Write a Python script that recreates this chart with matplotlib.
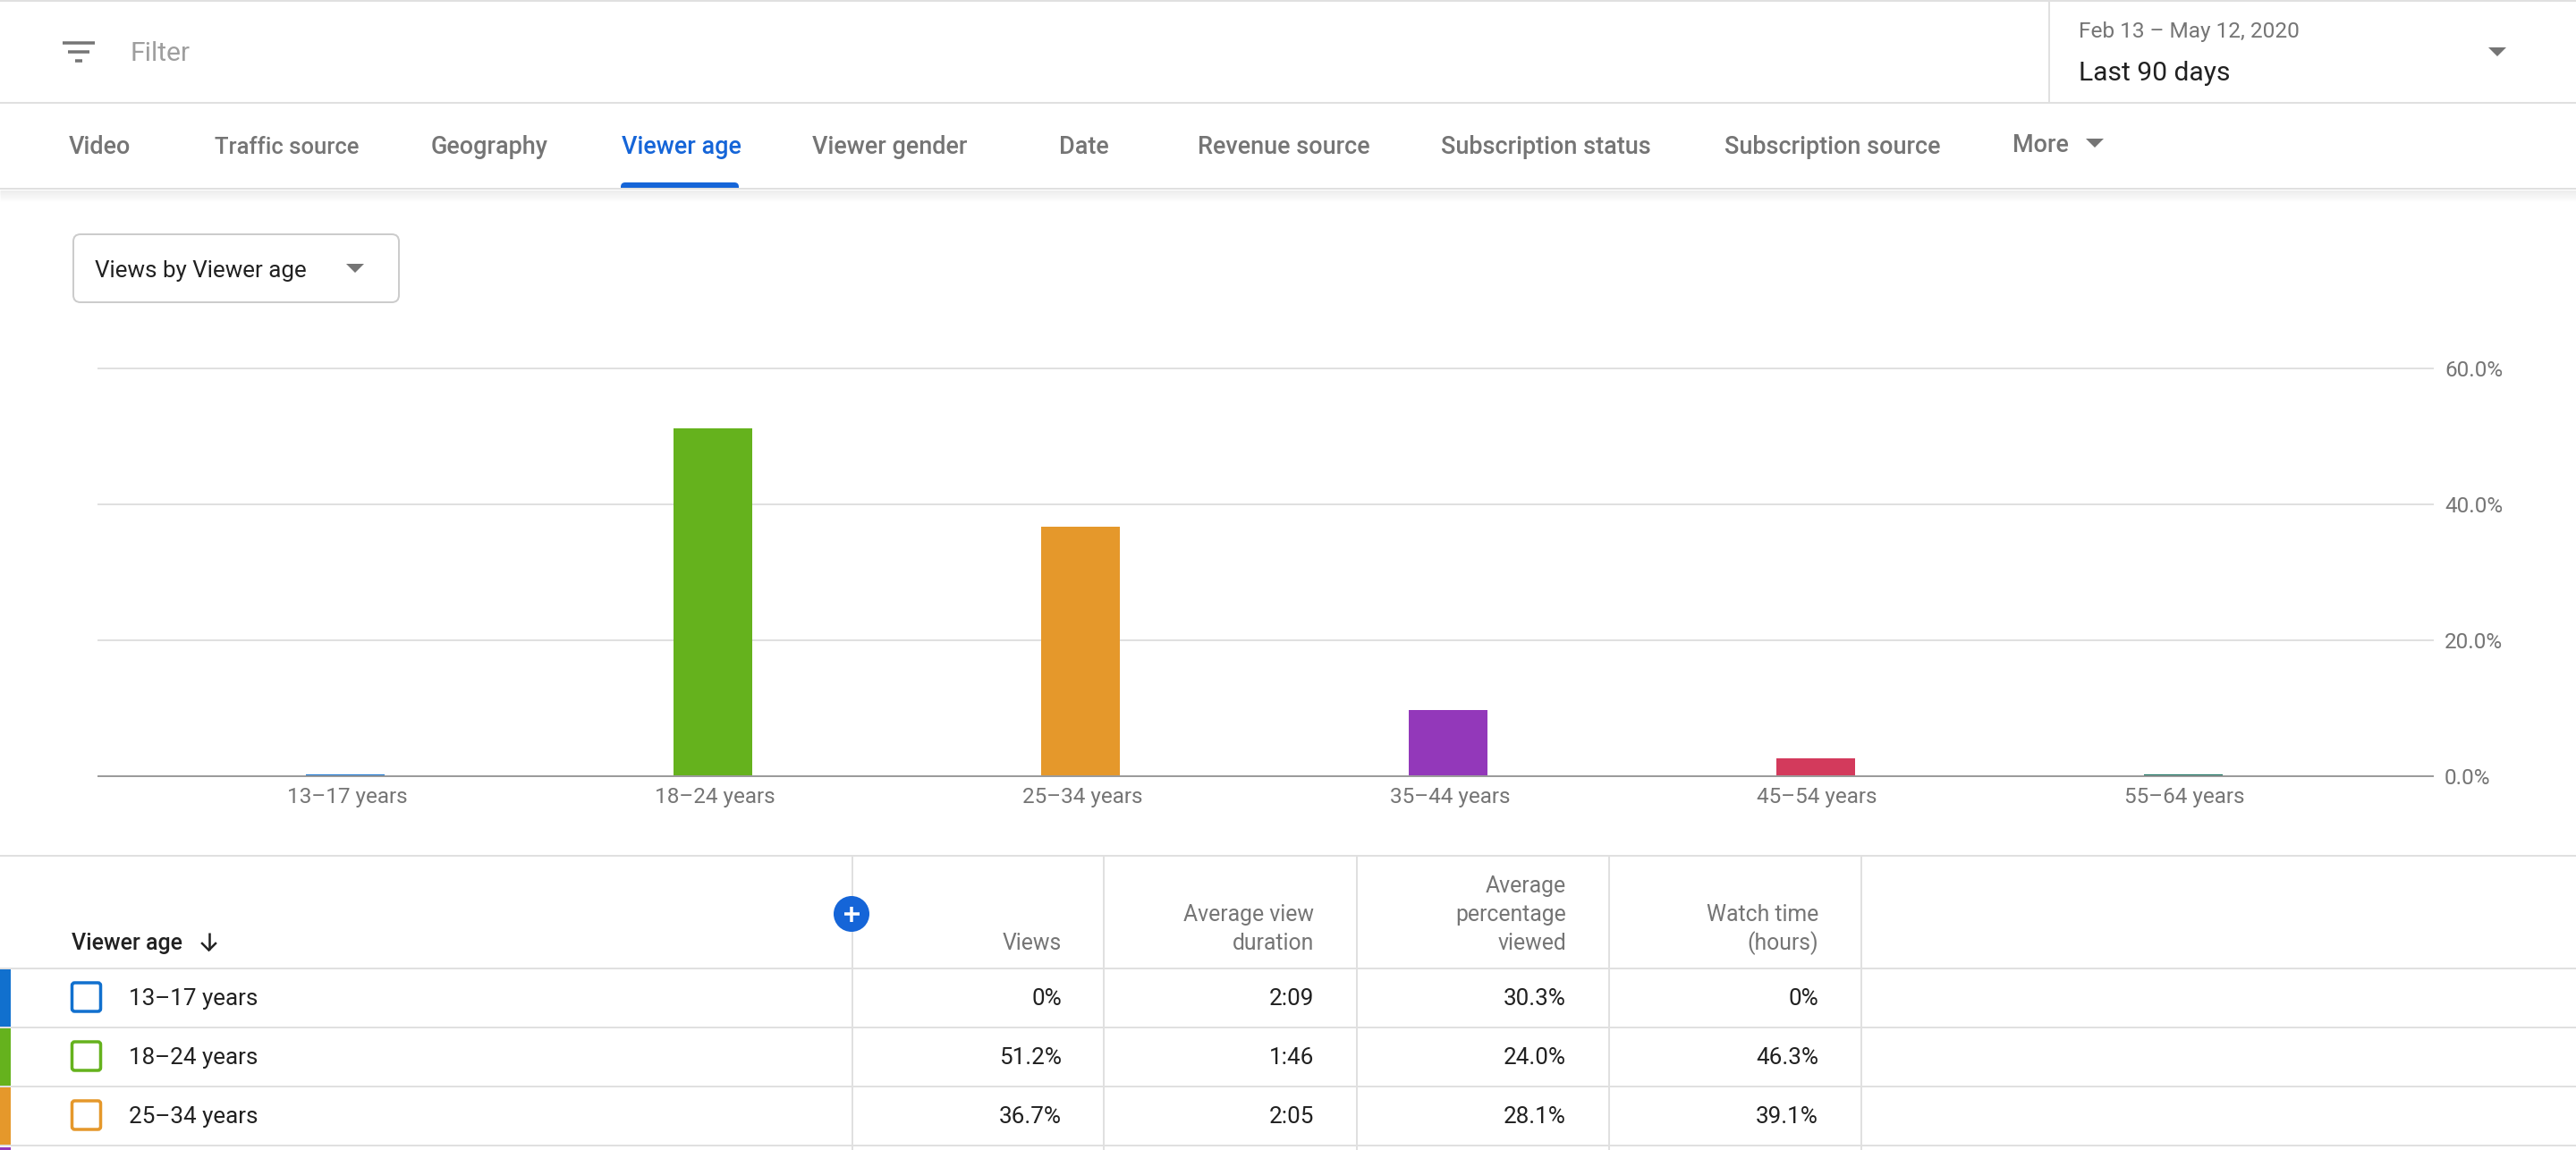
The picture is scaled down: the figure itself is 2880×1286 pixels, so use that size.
import matplotlib
matplotlib.use('Agg')
import matplotlib.pyplot as plt
from matplotlib.patches import Polygon, FancyBboxPatch, Circle, Rectangle
from matplotlib.transforms import Affine2D

plt.rcParams['font.family'] = ['Roboto', 'DejaVu Sans']

# chart data
age_groups = ['13–17 years', '18–24 years', '25–34 years', '35–44 years', '45–54 years', '55–64 years']
views_pct = [0.25, 51.2, 36.7, 9.7, 2.6, 0.25]
bar_colors = ['#1170CE', '#65B21D', '#E5982B', '#9338BA', '#D33A5C', '#0B6B57']
y_ticks = [0, 20, 40, 60]
y_tick_labels = ['0.0%', '20.0%', '40.0%', '60.0%']

# the table under the chart
table_rows = ['13–17 years', '18–24 years', '25–34 years']
table_views = ['0%', '51.2%', '36.7%']
table_duration = ['2:09', '1:46', '2:05']
table_percentage = ['30.3%', '24.0%', '28.1%']
table_watch = ['0%', '46.3%', '39.1%']

# nav tabs: label, left edge in pixels
tabs = ['Video', 'Traffic source', 'Geography', 'Viewer age', 'Viewer gender', 'Date',
        'Revenue source', 'Subscription status', 'Subscription source', 'More']
tab_x = [77, 240, 482, 695, 908, 1184, 1339, 1611, 1928, 2250]

W, H = 2880, 1286
GREY = '#757575'
DARK = '#212121'
LINE = '#E0E0E0'
BLUE = '#1565D8'


def pt(px):
    # everything was measured in image pixels, fonts and lines want points
    return px * 72 / 100


fig = plt.figure(figsize=(28.8, 12.86), dpi=100, facecolor='white')

# one axes in pixel coordinates for the page around the chart
ui = fig.add_axes([0, 0, 1, 1])
ui.set_xlim(0, W)
ui.set_ylim(H, 0)
ui.axis('off')


def label(x, y, s, size=26, color=DARK, ha='left', weight='normal'):
    ui.text(x, y, s, fontsize=pt(size), color=color, ha=ha, va='baseline', fontweight=weight)


def hline(y, x0=0, x1=W, lw=2, color=LINE, alpha=None):
    ui.plot([x0, x1], [y, y], color=color, lw=pt(lw), solid_capstyle='butt', alpha=alpha)


def vline(x, y0, y1, lw=2, color=LINE):
    ui.plot([x, x], [y0, y1], color=color, lw=pt(lw), solid_capstyle='butt')


def triangle(x, y, w=20, h=10):
    ui.add_patch(Polygon([(x - w / 2, y - h / 2), (x + w / 2, y - h / 2), (x, y + h / 2)],
                         closed=True, fc=GREY, ec='none'))


# top bar
hline(1)
hline(115)
vline(2291, 2, 115)
for y, x0, x1 in [(48, 70, 106), (58, 76, 100), (68, 84, 92)]:
    hline(y, x0, x1, lw=3.5, color=GREY)
label(145, 68, 'Filter', size=30, color='#9E9E9E')
label(2324, 42, 'Feb 13 – May 12, 2020', size=24.4, color=GREY)
label(2324, 90, 'Last 90 days', size=30)
triangle(2792, 58)

# nav tabs, with a soft shadow below
for i in range(13):
    hline(212.5 + i, lw=1.2, color='#000000', alpha=0.06 * (1 - i / 13))
hline(211, color=LINE, lw=2)
for name, x in zip(tabs, tab_x):
    active = name == 'Viewer age'
    y = 170 if name == 'More' else 172
    # the reference sets "ffi" tighter than Roboto does here
    size = 25.6 if name == 'Traffic source' else 27
    label(x, y, name, size=size, color=BLUE if active else GREY, weight='medium')
triangle(2342, 160)
underline = FancyBboxPatch((694, 204), 132, 14, boxstyle='round,pad=0,rounding_size=5', fc=BLUE, ec='none')
ui.add_patch(underline)
underline.set_clip_path(Rectangle((690, 200), 140, 10, transform=ui.transData))

# dropdown above the chart
ui.add_patch(FancyBboxPatch((82, 262), 364, 76, boxstyle='round,pad=0,rounding_size=8',
                            fc='white', ec='#CCCCCC', lw=pt(2)))
label(106, 310, 'Views by Viewer age', size=26)
triangle(397, 300)

# the bar chart itself
ax = fig.add_axes([110 / W, 1 - 868 / H, (2720 - 110) / W, (868 - 412) / H])
ax.set_xlim(-0.672, 5.68)
ax.set_ylim(0, 60)
ax.patch.set_alpha(0)
positions = list(range(len(age_groups)))
ax.bar(positions, views_pct, width=0.214, color=bar_colors, zorder=3)
ax.set_xticks(positions)
ax.set_xticklabels(age_groups)
ax.set_yticks(y_ticks)
ax.set_yticklabels(y_tick_labels)
ax.yaxis.tick_right()
ax.tick_params(axis='both', length=0, labelsize=pt(24.3), labelcolor=GREY)
ax.tick_params(axis='x', pad=pt(12))
ax.tick_params(axis='y', pad=pt(13))
ax.grid(axis='y', color=LINE, lw=pt(2), zorder=0)
for gridline in ax.get_ygridlines():
    gridline.set_clip_on(False)
ax.get_ygridlines()[0].set_visible(False)
# x labels sit 2 px right of the bar centres in the reference
for tick_text in ax.get_xticklabels():
    tick_text.set_transform(tick_text.get_transform() + Affine2D().translate(2, 0))
for side in ['top', 'left', 'right']:
    ax.spines[side].set_visible(False)
ax.spines['bottom'].set_color('#9B9B9B')
ax.spines['bottom'].set_linewidth(pt(2))
ax.spines['bottom'].set_zorder(4)

# table grid
hline(957)
for y in [1083, 1149, 1215, 1281]:
    hline(y)
for x in [953, 1234, 1517, 1799, 2081]:
    vline(x, 957, H)

# table header
label(80, 1062, 'Viewer age', size=25, weight='medium')
ui.plot([233.5, 233.5], [1043, 1062], color=DARK, lw=pt(2.5), solid_capstyle='butt')
ui.plot([226, 233.5, 241], [1055, 1062.5, 1055], color=DARK, lw=pt(2.5), solid_joinstyle='miter')
label(1187, 1062, 'Views', size=24.7, color=GREY, ha='right')
label(1469, 1030, 'Average view', size=24.7, color=GREY, ha='right')
label(1469, 1062, 'duration', size=24.7, color=GREY, ha='right')
label(1751, 998, 'Average', size=24.7, color=GREY, ha='right')
label(1751, 1030, 'percentage', size=24.7, color=GREY, ha='right')
label(1751, 1062, 'viewed', size=24.7, color=GREY, ha='right')
label(2033, 1030, 'Watch time', size=24.7, color=GREY, ha='right')
label(2033, 1062, '(hours)', size=24.7, color=GREY, ha='right')

# add-column button
ui.add_patch(Circle((952, 1022), 20, fc=BLUE, ec='none', zorder=5))
ui.plot([943.5, 960.5], [1022, 1022], color='white', lw=pt(3.5), solid_capstyle='butt', zorder=6)
ui.plot([952, 952], [1013.5, 1030.5], color='white', lw=pt(3.5), solid_capstyle='butt', zorder=6)

# table rows
for i, name in enumerate(table_rows):
    top = 1084 + 66 * i
    base = 1124 + 66 * i
    ui.add_patch(Rectangle((0, top), 12, 64, fc=bar_colors[i], ec='none'))
    ui.add_patch(FancyBboxPatch((80.5, top + 15), 32, 32, boxstyle='round,pad=0,rounding_size=3',
                                fc='white', ec=bar_colors[i], lw=pt(3.5)))
    label(144, base, name)
    label(1187, base, table_views[i], ha='right')
    label(1469, base, table_duration[i], ha='right')
    label(1751, base, table_percentage[i], ha='right')
    label(2033, base, table_watch[i], ha='right')
# next row is cut off by the image edge, only its colour strip shows
ui.add_patch(Rectangle((0, 1283), 12, 3, fc=bar_colors[3], ec='none'))

fig.savefig('out.png', dpi=100)
